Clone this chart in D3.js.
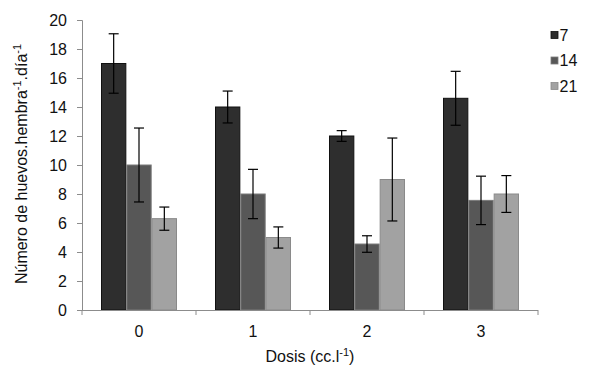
<!DOCTYPE html>
<html><head><meta charset="utf-8">
<script src="https://cdn.jsdelivr.net/npm/d3@7"></script>
<style>body{margin:0;background:#fff}svg{font-family:"Liberation Sans",Arial,sans-serif}</style>
</head><body><svg id="c" width="590" height="382"></svg>
<script>
const categories = ["0","1","2","3"];
const seriesNames = ["7","14","21"];
const values7  = [17.0, 14.0, 12.0, 14.6];
const values14 = [10.0, 8.0, 4.55, 7.56];
const values21 = [6.3, 5.0, 9.0, 8.0];
const err7  = [2.05, 1.1, 0.37, 1.86];
const err14 = [2.55, 1.7, 0.57, 1.67];
const err21 = [0.8, 0.73, 2.86, 1.27];
const yTicks = [0,2,4,6,8,10,12,14,16,18,20];
const fills = ["#2e2e2e","#575757","#a2a2a2"];
const strokes = ["#111","#7a7a7a","#8a8a8a"];

const vals = [values7, values14, values21];
const errs = [err7, err14, err21];
const svg = d3.select("#c");
const L = 82, R = 538, T = 20, B = 310;
const FS = "16px";
const x = d3.scaleBand().domain(categories).range([L, R]).paddingInner(0).paddingOuter(0);
const y = d3.scaleLinear().domain([0,20]).range([B, T]);

// bars occupy the middle 2/3 of each category band
const gw = x.bandwidth()*2/3;
const sub = d3.scaleBand().domain(seriesNames).range([(x.bandwidth()-gw)/2, (x.bandwidth()+gw)/2]);

// y axis
const ya = svg.append("g").attr("transform",`translate(${L},0)`)
  .call(d3.axisLeft(y).tickValues(yTicks).tickSize(5).tickPadding(10));
ya.select(".domain").attr("stroke","#8c8c8c");
ya.selectAll(".tick line").attr("stroke","#8c8c8c");
ya.selectAll(".tick text").attr("font-size",FS).attr("fill","#111").attr("font-family","Liberation Sans, Arial, sans-serif");

// bars
seriesNames.forEach((s,i)=>{
  const g = svg.append("g");
  g.selectAll("rect").data(categories).join("rect")
    .attr("x", c=>x(c)+sub(s)+0.5)
    .attr("y", (c,j)=>y(vals[i][j]))
    .attr("width", sub.bandwidth()-1)
    .attr("height", (c,j)=>B - y(vals[i][j]))
    .attr("fill", fills[i]).attr("stroke", strokes[i]).attr("stroke-width",1);
});

// x axis
const xa = svg.append("g").attr("transform",`translate(0,${B})`)
  .call(d3.axisBottom(x).tickSize(0).tickPadding(15.5));
xa.select(".domain").attr("stroke","#8c8c8c").attr("d",`M${L},0.5H${R}`);
xa.selectAll(".tick text").attr("font-size",FS).attr("fill","#111").attr("font-family","Liberation Sans, Arial, sans-serif");
svg.append("g").selectAll("line").data(d3.range(categories.length+1)).join("line")
  .attr("x1", k=>L + k*x.bandwidth()).attr("x2", k=>L + k*x.bandwidth())
  .attr("y1", B).attr("y2", B+5).attr("stroke","#8c8c8c");

// error bars
seriesNames.forEach((s,i)=>{
  categories.forEach((c,j)=>{
    const cx = x(c)+sub(s)+sub.bandwidth()/2;
    const top = y(vals[i][j]+errs[i][j]), bot = y(vals[i][j]-errs[i][j]);
    const g = svg.append("g").attr("stroke","#000").attr("stroke-width",1.2);
    g.append("line").attr("x1",cx).attr("x2",cx).attr("y1",top).attr("y2",bot);
    g.append("line").attr("x1",cx-5).attr("x2",cx+5).attr("y1",top).attr("y2",top);
    g.append("line").attr("x1",cx-5).attr("x2",cx+5).attr("y1",bot).attr("y2",bot);
  });
});

// legend
seriesNames.forEach((s,i)=>{
  const ly = 35 + i*25.5;
  svg.append("rect").attr("x",551).attr("y",ly-3.5).attr("width",7).attr("height",7)
    .attr("fill",fills[i]).attr("stroke",strokes[i]).attr("stroke-width",0.8);
  svg.append("text").attr("x",559.5).attr("y",ly+5.5).attr("font-size",FS).attr("fill","#111").text(s);
});

// axis titles
const xt = svg.append("text").attr("x",310).attr("y",362).attr("text-anchor","middle").attr("font-size",FS).attr("fill","#111");
xt.append("tspan").text("Dosis (cc.l");
xt.append("tspan").attr("font-size","11px").attr("dy",-6).text("-1");
xt.append("tspan").attr("dy",6).text(")");

const yt = svg.append("text").attr("transform","translate(27,164) rotate(-90)").attr("text-anchor","middle").attr("font-size",FS).attr("fill","#111");
yt.append("tspan").text("Número de huevos.hembra");
yt.append("tspan").attr("font-size","11px").attr("dy",-6).text("-1");
yt.append("tspan").attr("dy",6).text(".día");
yt.append("tspan").attr("font-size","11px").attr("dy",-6).text("-1");
</script></body></html>
